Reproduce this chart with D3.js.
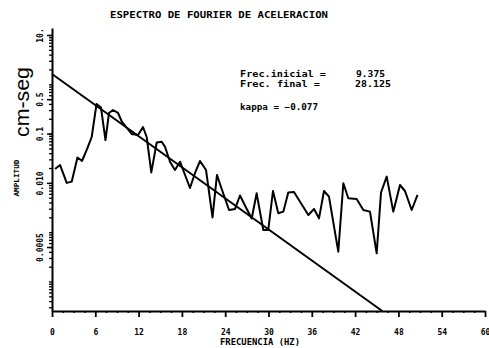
<!DOCTYPE html>
<html>
<head>
<meta charset="utf-8">
<script src="https://cdn.jsdelivr.net/npm/d3@7"></script>
<style>
  html, body { margin: 0; padding: 0; background: #fff; }
  svg { display: block; }
</style>
</head>
<body>
<svg id="chart" width="489" height="348"></svg>
<script>
// Fourier amplitude spectrum of acceleration (cm/s) against frequency (Hz)
const freq = [0.42, 1.11, 2.04, 2.73, 3.53, 4.16, 4.92, 5.50, 6.17, 6.79,
  7.41, 7.90, 8.45, 9.15, 9.70, 11.04, 11.92, 12.61, 13.12, 13.76,
  14.51, 15.20, 15.66, 16.35, 17.04, 17.74, 19.12, 19.82, 20.51, 21.34,
  22.24, 22.86, 23.42, 24.53, 25.36, 26.05, 26.88, 27.67, 28.36, 29.28,
  29.97, 30.62, 31.36, 32.05, 32.74, 33.53, 34.50, 35.52, 36.31, 37.00,
  37.69, 38.38, 39.67, 40.37, 41.06, 42.22, 43.14, 44.06, 44.99, 45.59,
  46.38, 47.29, 48.22, 48.91, 49.84, 50.65];
const amplitude = [0.0191, 0.0231, 0.0100, 0.0106, 0.0328, 0.0278, 0.0511, 0.0853, 0.398, 0.338,
  0.0741, 0.262, 0.301, 0.262, 0.172, 0.0982, 0.0937, 0.136, 0.0853, 0.0163,
  0.0659, 0.0685, 0.0542, 0.0269, 0.0183, 0.0269, 0.00788, 0.0159, 0.0278, 0.0183,
  0.00199, 0.0145, 0.00826, 0.00282, 0.00296, 0.00555, 0.00317, 0.00190, 0.00615, 0.00111,
  0.00111, 0.00685, 0.00242, 0.00261, 0.00638, 0.00653, 0.00385, 0.00223, 0.00296, 0.00191,
  0.00685, 0.00525, 0.000402, 0.00982, 0.00487, 0.00471, 0.00282, 0.00261, 0.000373, 0.00638,
  0.0134, 0.00261, 0.00906, 0.00685, 0.00282, 0.00569];

// Decay fit A(f) = A0 * exp(pi * kappa * f)
const kappa = -0.077;
const fitA0 = 1.618;
const frecInicial = 9.375;
const frecFinal = 28.125;

const xTicks = [0, 6, 12, 18, 24, 30, 36, 42, 48, 54, 60];
const yTicks = [10, 0.5, 0.1, 0.01, 0.0005];
const yTickLabels = ["10.", "0.5", "0.1", "0.010", "0.0005"];

const svg = d3.select("#chart");
const mono = "'DejaVu Sans Mono', monospace";

const x = d3.scaleLinear().domain([0, 60]).range([52, 485]);
const y = d3.scaleLog().domain([2.52e-5, 13.87]).range([311, 28]);

// ---- title ----
svg.append("text")
  .attr("x", 110).attr("y", 18)
  .attr("textLength", 218).attr("lengthAdjust", "spacingAndGlyphs")
  .style("font-family", mono).style("font-weight", "bold").style("font-size", "8.5px")
  .text("ESPECTRO DE FOURIER DE ACELERACION");

// ---- x axis ----
const xMinor = d3.range(0, 60.01, 1.5).filter(v => v % 6 !== 0);
svg.append("g")
  .attr("transform", `translate(0,${y.range()[0]})`)
  .call(d3.axisBottom(x).tickValues(xMinor).tickSize(2).tickSizeOuter(0).tickFormat(""))
  .call(g => g.select(".domain").remove())
  .call(g => g.selectAll(".tick line").attr("stroke", "#000").attr("stroke-width", 1.5));

const xAxisG = svg.append("g")
  .attr("transform", `translate(0,${y.range()[0]})`)
  .call(d3.axisBottom(x).tickValues(xTicks).tickSize(6).tickSizeOuter(0).tickPadding(12)
    .tickFormat(d3.format("d")));
xAxisG.select(".domain").attr("stroke", "#000").attr("stroke-width", 2);
xAxisG.selectAll(".tick line").attr("stroke", "#000").attr("stroke-width", 1.8);
xAxisG.selectAll(".tick text")
  .style("font-family", mono).style("font-weight", "bold").style("font-size", "8px")
  .attr("fill", "#000");

svg.append("text")
  .attr("x", 220).attr("y", 345)
  .attr("textLength", 80).attr("lengthAdjust", "spacingAndGlyphs")
  .style("font-family", mono).style("font-weight", "bold").style("font-size", "8px")
  .text("FRECUENCIA (HZ)");

// ---- y axis (log) ----
const [yLo, yHi] = y.domain();
const yMinor = [];
for (let e = -5; e <= 1; e++) {
  for (let n = 1; n <= 9; n++) {
    const v = n * Math.pow(10, e);
    if (v >= yLo && v <= yHi) yMinor.push(v);
  }
}
svg.append("g")
  .attr("transform", `translate(${x(0)},0)`)
  .call(d3.axisLeft(y).tickValues(yMinor).tickSize(3).tickSizeOuter(0).tickFormat(""))
  .call(g => g.select(".domain").attr("stroke", "#000").attr("stroke-width", 2))
  .call(g => g.selectAll(".tick line").attr("stroke", "#000").attr("stroke-width", 1.3));

const yAxisG = svg.append("g")
  .attr("transform", `translate(${x(0)},0)`)
  .call(d3.axisLeft(y).tickValues(yTicks).tickSize(5).tickSizeOuter(0).tickFormat(""));
yAxisG.select(".domain").remove();
yAxisG.selectAll(".tick line").attr("stroke", "#000").attr("stroke-width", 1.5);
yAxisG.selectAll(".tick").append("text")
  .attr("transform", "translate(-9,0) rotate(-90)")
  .attr("text-anchor", "middle")
  .attr("fill", "#000")
  .style("font-family", mono).style("font-weight", "bold").style("font-size", "8px")
  .text((d, i) => yTickLabels[i]);

svg.append("text")
  .attr("transform", "translate(19,178) rotate(-90)")
  .attr("text-anchor", "middle")
  .attr("textLength", 37).attr("lengthAdjust", "spacingAndGlyphs")
  .style("font-family", mono).style("font-weight", "bold").style("font-size", "7px")
  .text("AMPLITUD");

svg.append("text")
  .attr("transform", "translate(29,102) rotate(-90)")
  .attr("text-anchor", "middle")
  .attr("textLength", 70).attr("lengthAdjust", "spacingAndGlyphs")
  .style("font-family", "'Liberation Sans', Arial, sans-serif").style("font-size", "21px")
  .text("cm-seg");

// ---- spectrum ----
const spectrum = freq.map((f, i) => ({ f, a: amplitude[i] }));
svg.append("path")
  .datum(spectrum)
  .attr("fill", "none").attr("stroke", "#000").attr("stroke-width", 2)
  .attr("stroke-linejoin", "round")
  .attr("d", d3.line().x(d => x(d.f)).y(d => y(d.a)));

// ---- kappa fit line, from f = 0 until it reaches the bottom of the axis ----
const fitEnd = Math.log(fitA0 / yLo) / (Math.PI * Math.abs(kappa));
const fitLine = [0, fitEnd].map(f => ({ f, a: fitA0 * Math.exp(Math.PI * kappa * f) }));
svg.append("path")
  .datum(fitLine)
  .attr("fill", "none").attr("stroke", "#000").attr("stroke-width", 2)
  .attr("d", d3.line().x(d => x(d.f)).y(d => y(d.a)));

// ---- annotations ----
const note = (tx, ty, txt, len) => svg.append("text")
  .attr("x", tx).attr("y", ty)
  .attr("textLength", len).attr("lengthAdjust", "spacingAndGlyphs")
  .style("font-family", mono).style("font-weight", "bold").style("font-size", "8px")
  .text(txt);
note(240, 77, "Frec.inicial =", 86);
note(356, 77, d3.format(".3f")(frecInicial), 29);
note(240, 87, "Frec. final =", 80);
note(355, 87, d3.format(".3f")(frecFinal), 36);
note(240, 110, "kappa = " + d3.format(".3f")(kappa), 78);
</script>
</body>
</html>
